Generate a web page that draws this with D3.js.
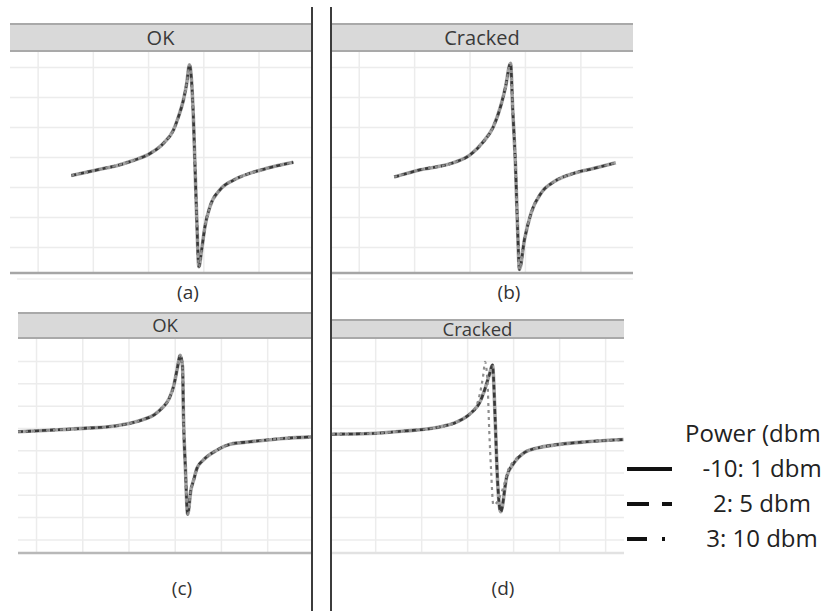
<!DOCTYPE html>
<html>
<head>
<meta charset="utf-8">
<script src="https://cdn.jsdelivr.net/npm/d3@7.9.0/dist/d3.min.js"></script>
<style>
  body { margin: 0; background: #fff; }
  svg { display: block; font-family: 'Open Sans', sans-serif; }
</style>
</head>
<body>
<svg id="chart" width="829" height="611"></svg>
<script>
// panel titles, captions and legend entries
const panelTitles = ['OK', 'Cracked', 'OK', 'Cracked'];
const panelCaptions = ['(a)', '(b)', '(c)', '(d)'];
const powerLevels = ['-10: 1 dbm', '2: 5 dbm', '3: 10 dbm'];
const legendTitle = 'Power (dbm';

// gridline positions, in grid units
const topXTicks = [1, 2, 3, 4, 5];
const topYTicks = [1, 2, 3, 4, 5, 6, 7];
const botXTicks = [1, 2, 3, 4, 5, 6];
const botYTicks = [1, 2, 3, 4, 5, 6, 7, 8, 9];

// curves, [x, y] in grid units
const curveA = [[1.61, 3.38], [2.13, 3.59], [2.43, 3.71], [2.73, 3.88], [3.04, 4.12], [3.28, 4.46],
  [3.46, 4.9], [3.55, 5.34], [3.64, 5.9], [3.70, 6.46], [3.75, 7.07], [3.79, 6.46], [3.82, 5.34],
  [3.85, 3.68], [3.88, 2.01], [3.92, 0.34], [3.97, 0.9], [4.03, 1.68], [4.12, 2.34], [4.30, 2.9],
  [4.55, 3.23], [4.85, 3.46], [5.15, 3.62], [5.63, 3.82]];
const curveB = [[1.64, 3.33], [2.11, 3.57], [2.71, 3.81], [3.01, 4.07], [3.25, 4.51], [3.43, 5.01],
  [3.56, 5.68], [3.65, 6.34], [3.74, 7.12], [3.78, 5.57], [3.83, 3.68], [3.87, 1.46], [3.90, 0.25],
  [3.99, 1.23], [4.11, 2.12], [4.29, 2.79], [4.53, 3.18], [4.89, 3.46], [5.25, 3.62], [5.64, 3.81]];
const curveC = [[0.61, 5.83], [1.30, 5.90], [2.02, 5.98], [2.75, 6.10], [3.10, 6.24], [3.35, 6.40],
  [3.55, 6.58], [3.72, 6.88], [3.88, 7.32], [3.98, 7.90], [4.05, 8.60], [4.12, 9.26], [4.17, 8.74],
  [4.19, 6.50], [4.23, 4.26], [4.28, 2.13], [4.35, 3.21], [4.41, 3.66], [4.48, 4.18], [4.62, 4.56],
  [4.91, 5.00], [5.20, 5.27], [5.63, 5.38], [6.35, 5.53], [6.97, 5.60]];
// cracked, low power (-10 and 2 overlap)
const curveD = [[0.06, 5.72], [0.89, 5.75], [1.62, 5.86], [2.34, 6.02], [2.78, 6.27], [3.07, 6.65],
  [3.28, 7.17], [3.39, 7.77], [3.49, 8.44], [3.55, 8.82], [3.61, 6.35], [3.65, 4.11], [3.73, 2.24],
  [3.86, 3.81], [4.01, 4.41], [4.22, 4.86], [4.55, 5.11], [4.88, 5.23], [5.60, 5.38], [6.40, 5.48]];
// cracked, 10 dbm: resonance moves left
const curveD10 = [[0.06, 5.72], [0.89, 5.75], [1.62, 5.86], [2.34, 6.02], [2.78, 6.27], [3.07, 6.65],
  [3.22, 7.1], [3.28, 7.56], [3.35, 8.37], [3.39, 8.96], [3.44, 8.15], [3.48, 5.9], [3.52, 4.11],
  [3.57, 2.54], [3.79, 3.36], [3.89, 4.1], [4.04, 4.56], [4.22, 4.88], [4.55, 5.11], [4.88, 5.23],
  [5.60, 5.38], [6.40, 5.48]];

const svg = d3.select('#chart');

// layout of the four panels
const panels = [
  { left: 10, right: 311, top: 52, bottom: 273, headTop: 23, headLeft: 10, headRight: 311,
    xDom: [0.5, 5.95], yDom: [0.13, 7.5], xt: topXTicks, yt: topYTicks,
    series: [curveA, curveA, curveA], capX: 188, capY: 299, titleSize: 20, baseColor: '#a6a6a6' },
  { left: 331, right: 633, top: 52, bottom: 273, headTop: 23, headLeft: 331, headRight: 633,
    xDom: [0.5, 5.95], yDom: [0.13, 7.5], xt: topXTicks, yt: topYTicks,
    series: [curveB, curveB, curveB], capX: 509, capY: 299, titleSize: 20, baseColor: '#a6a6a6' },
  { left: 18, right: 312, top: 339, bottom: 553, headTop: 312, headLeft: 18, headRight: 312,
    xDom: [0.61, 6.97], yDom: [0.39, 9.99], xt: botXTicks, yt: botYTicks,
    series: [curveC, curveC, curveC], capX: 182, capY: 595, titleSize: 18.5, baseColor: '#b8b8b8' },
  { left: 331, right: 624, top: 339, bottom: 553, headTop: 319, headLeft: 331, headRight: 624,
    xDom: [0.04, 6.41], yDom: [0.39, 9.99], xt: botXTicks, yt: botYTicks,
    series: [curveD, curveD, curveD10], capX: 503, capY: 595, titleSize: 18.5, baseColor: '#e2e2e2' }
];

// how each power level is drawn inside the panels
const lineStyles = [
  { stroke: '#a4a4a4', width: 3.6, dash: null },
  { stroke: '#383838', width: 2.6, dash: '5 3' },
  { stroke: '#8e8e8e', width: 2.2, dash: '3 4' }
];

panels.forEach((p, i) => {
  const x = d3.scaleLinear().domain(p.xDom).range([p.left, p.right]);
  const y = d3.scaleLinear().domain(p.yDom).range([p.bottom, p.top]);
  const g = svg.append('g');

  // grid
  g.append('g')
    .attr('transform', `translate(0,${p.bottom})`)
    .call(d3.axisBottom(x).tickValues(p.xt).tickSize(-(p.bottom - p.top)).tickFormat(''))
    .call(a => a.select('.domain').remove())
    .call(a => a.selectAll('line').attr('stroke', '#ececec').attr('stroke-width', 1.5));
  g.append('g')
    .attr('transform', `translate(${p.left},0)`)
    .call(d3.axisLeft(y).tickValues(p.yt).tickSize(-(p.right - p.left)).tickFormat(''))
    .call(a => a.select('.domain').remove())
    .call(a => a.selectAll('line').attr('stroke', '#ececec').attr('stroke-width', 1.5));

  // baseline
  g.append('line')
    .attr('x1', p.left).attr('x2', p.right)
    .attr('y1', p.bottom).attr('y2', p.bottom)
    .attr('stroke', p.baseColor).attr('stroke-width', 2.5);
  if (i < 2) {
    g.append('line')
      .attr('x1', p.left + 7).attr('x2', p.right)
      .attr('y1', p.bottom + 6).attr('y2', p.bottom + 6)
      .attr('stroke', '#f0f0f0').attr('stroke-width', 1.5);
  }

  // header bar
  g.append('rect')
    .attr('x', p.headLeft).attr('y', p.headTop)
    .attr('width', p.headRight - p.headLeft).attr('height', p.top - p.headTop)
    .attr('fill', '#d9d9d9');
  [p.headTop + 1, p.top - 1].forEach(yy => {
    g.append('line')
      .attr('x1', p.headLeft).attr('x2', p.headRight)
      .attr('y1', yy).attr('y2', yy)
      .attr('stroke', '#a9a9a9').attr('stroke-width', 2);
  });
  g.append('text')
    .attr('x', (p.headLeft + p.headRight) / 2)
    .attr('y', (p.headTop + p.top) / 2)
    .attr('dy', '0.36em')
    .attr('text-anchor', 'middle')
    .attr('font-size', p.titleSize)
    .attr('fill', '#3a3a3a')
    .text(panelTitles[i]);

  // curves, one per power level
  const line = d3.line()
    .x(d => x(d[0]))
    .y(d => y(d[1]))
    .curve(d3.curveMonotoneX);
  p.series.forEach((data, k) => {
    const s = lineStyles[k];
    g.append('path')
      .datum(data)
      .attr('d', line)
      .attr('fill', 'none')
      .attr('stroke', s.stroke)
      .attr('stroke-width', s.width)
      .attr('stroke-dasharray', s.dash)
      .attr('stroke-linejoin', 'round');
  });

  // caption
  g.append('text')
    .attr('x', p.capX).attr('y', p.capY)
    .attr('text-anchor', 'middle')
    .attr('font-size', 19)
    .attr('fill', '#333')
    .text(panelCaptions[i]);
});

// vertical separators
[312, 331].forEach(xx => {
  svg.append('line')
    .attr('x1', xx).attr('x2', xx)
    .attr('y1', 7).attr('y2', 611)
    .attr('stroke', '#3c3c3c').attr('stroke-width', 2);
});

// legend
const legend = svg.append('g');
legend.append('text')
  .attr('x', 685).attr('y', 442)
  .attr('font-size', 24)
  .attr('fill', '#222')
  .text(legendTitle);

const swatchDash = [null, '22 13', '20 15 3'];
const swatchEnd = [672, 672, 665];
powerLevels.forEach((lab, k) => {
  const yy = 469 + k * 35;
  legend.append('line')
    .attr('x1', 627).attr('x2', swatchEnd[k])
    .attr('y1', yy).attr('y2', yy)
    .attr('stroke', '#111').attr('stroke-width', 4)
    .attr('stroke-dasharray', swatchDash[k]);
  legend.append('text')
    .attr('x', 762).attr('y', yy + 8)
    .attr('text-anchor', 'middle')
    .attr('font-size', 24)
    .attr('fill', '#222')
    .text(lab);
});
</script>
</body>
</html>
